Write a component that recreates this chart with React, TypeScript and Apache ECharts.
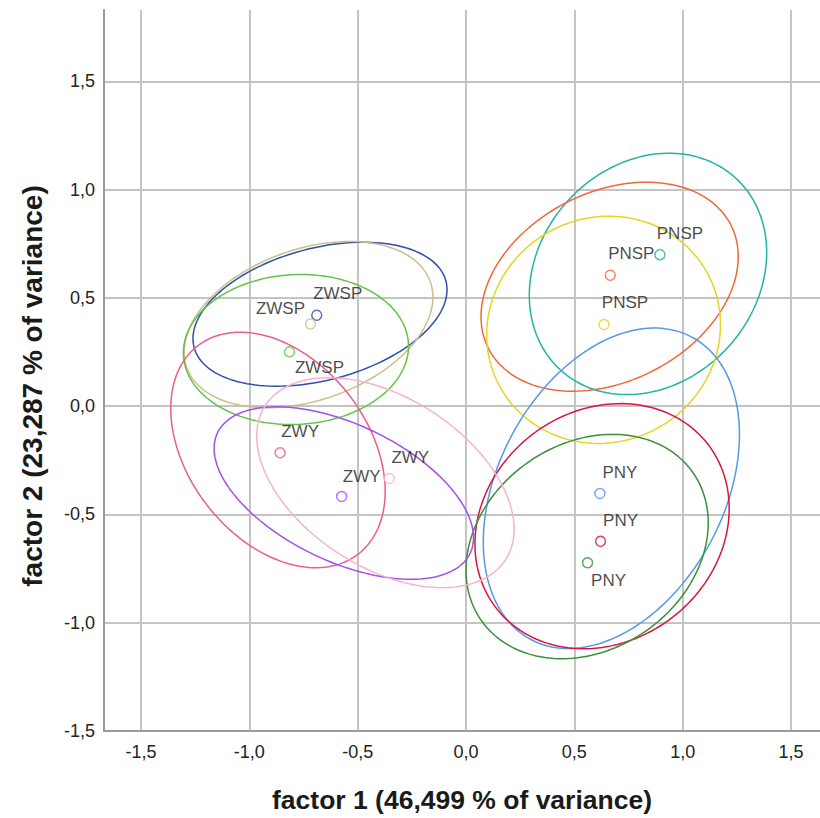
import React, { useEffect, useRef } from "react";
import * as echarts from "echarts";

// ---- data ----
const groupNames = ["PNSP", "PNSP", "PNSP", "PNY", "PNY", "PNY", "ZWSP", "ZWSP", "ZWSP", "ZWY", "ZWY", "ZWY"];
const pointX = [0.895, 0.666, 0.637, 0.618, 0.621, 0.561, -0.689, -0.718, -0.815, -0.858, -0.574, -0.354];
const pointY = [0.700, 0.605, 0.377, -0.403, -0.624, -0.723, 0.420, 0.380, 0.251, -0.215, -0.417, -0.334];
// confidence ellipses: centre, semi-axes and rotation (degrees)
const ellipseCx = [0.840, 0.663, 0.635, 0.671, 0.628, 0.559, -0.674, -0.727, -0.785, -0.868, -0.564, -0.372];
const ellipseCy = [0.611, 0.552, 0.353, -0.379, -0.554, -0.648, 0.425, 0.377, 0.262, -0.202, -0.401, -0.353];
const ellipseA = [0.600, 0.628, 0.546, 0.791, 0.618, 0.596, 0.601, 0.596, 0.520, 0.607, 0.646, 0.659];
const ellipseB = [0.501, 0.437, 0.518, 0.521, 0.532, 0.475, 0.305, 0.349, 0.346, 0.415, 0.316, 0.392];
const ellipseAngle = [47.8, 27.0, 29.0, 62.0, 38.0, 35.0, 14.8, 19.3, 3.0, -52.5, -25.5, -32.6];
const tickValues = [-1.5, -1.0, -0.5, 0.0, 0.5, 1.0, 1.5];
const xTitle = "factor 1 (46,499 % of variance)";
const yTitle = "factor 2 (23,287 % of variance)";

// ---- styles ----
const colors = ["#22b3a3", "#f0683a", "#e6d424", "#5599e6", "#d8163f", "#3a8f3a", "#3050a8", "#cbbf8c", "#62c446", "#ef5b8f", "#a050f0", "#f7b3cd"];
const labelOffsets: number[][] = [[20, -21], [21, -22], [21, -22], [20, -21], [20, -21], [21, 18], [21, -22], [-30, -15], [30, 16], [20, -21], [20, -20], [21, -21]];

const fmt = (v: number) => v.toFixed(1).replace(".", ",");

export default function App() {
  const ref = useRef<HTMLDivElement>(null);
  useEffect(() => {
    if (!ref.current) return;
    const chart = echarts.init(ref.current, null, { renderer: "svg" });
    const font = "'Liberation Sans', Arial, sans-serif";

    const ellipseSeries = ellipseCx.map((cx, i) => ({
      type: "custom",
      name: "ellipse" + i,
      silent: true,
      z: 2,
      data: [[cx, ellipseCy[i]]],
      renderItem: (params: any, api: any) => {
        const pts: number[][] = [];
        const th = (ellipseAngle[i] * Math.PI) / 180;
        const a = ellipseA[i];
        const b = ellipseB[i];
        const cy = ellipseCy[i];
        const N = 160;
        for (let k = 0; k < N; k++) {
          const t = (2 * Math.PI * k) / N;
          const x = cx + a * Math.cos(t) * Math.cos(th) - b * Math.sin(t) * Math.sin(th);
          const y = cy + a * Math.cos(t) * Math.sin(th) + b * Math.sin(t) * Math.cos(th);
          pts.push(api.coord([x, y]));
        }
        return {
          type: "polygon",
          shape: { points: pts },
          style: { fill: "none", stroke: colors[i], lineWidth: 1.5 },
        };
      },
    }));

    const scatterData = pointX.map((x, i) => ({
      value: [x, pointY[i]],
      name: groupNames[i],
      itemStyle: { color: "#ffffff", borderColor: colors[i], borderWidth: 1.5 },
      label: { offset: labelOffsets[i] },
    }));

    chart.setOption({
      animation: false,
      backgroundColor: "#ffffff",
      grid: { left: 104, top: 10, width: 716, height: 722, containLabel: false },
      graphic: [
        {
          type: "text",
          x: 32,
          y: 386,
          rotation: Math.PI / 2,
          style: {
            text: yTitle,
            fontSize: 28,
            fontWeight: "bold",
            fill: "#1a1a1a",
            fontFamily: font,
            align: "center",
            verticalAlign: "middle",
          },
        },
      ],
      xAxis: {
        type: "value",
        min: -1.671,
        max: 1.634,
        name: xTitle,
        nameLocation: "middle",
        nameGap: 55,
        nameTextStyle: { fontSize: 26.5, fontWeight: "bold", color: "#1a1a1a", fontFamily: font },
        axisLine: { show: true, onZero: false, lineStyle: { color: "#9a9a9a", width: 2 } },
        axisTick: { show: false, customValues: tickValues },
        axisLabel: { customValues: tickValues, formatter: fmt, fontSize: 18, color: "#222", margin: 12, fontFamily: font },
        splitLine: { show: true, lineStyle: { color: "#c4c4c4", width: 2 } },
      },
      yAxis: {
        type: "value",
        min: -1.5,
        max: 1.83,
        axisLine: { show: true, onZero: false, lineStyle: { color: "#9a9a9a", width: 2 } },
        axisTick: { show: false, customValues: tickValues },
        axisLabel: { customValues: tickValues, formatter: fmt, fontSize: 18, color: "#222", margin: 9, fontFamily: font },
        splitLine: { show: true, lineStyle: { color: "#c4c4c4", width: 2 } },
      },
      series: [
        ...ellipseSeries,
        {
          type: "scatter",
          z: 5,
          symbol: "circle",
          symbolSize: 10,
          data: scatterData,
          label: {
            show: true,
            position: "inside",
            formatter: (p: any) => p.name,
            fontSize: 17,
            color: "#1a1a1a",
            fontFamily: font,
          },
        },
      ],
    });
    return () => chart.dispose();
  }, []);
  return <div ref={ref} style={{ position: "fixed", left: 0, top: 0, width: 820, height: 818, background: "#fff" }} />;
}
